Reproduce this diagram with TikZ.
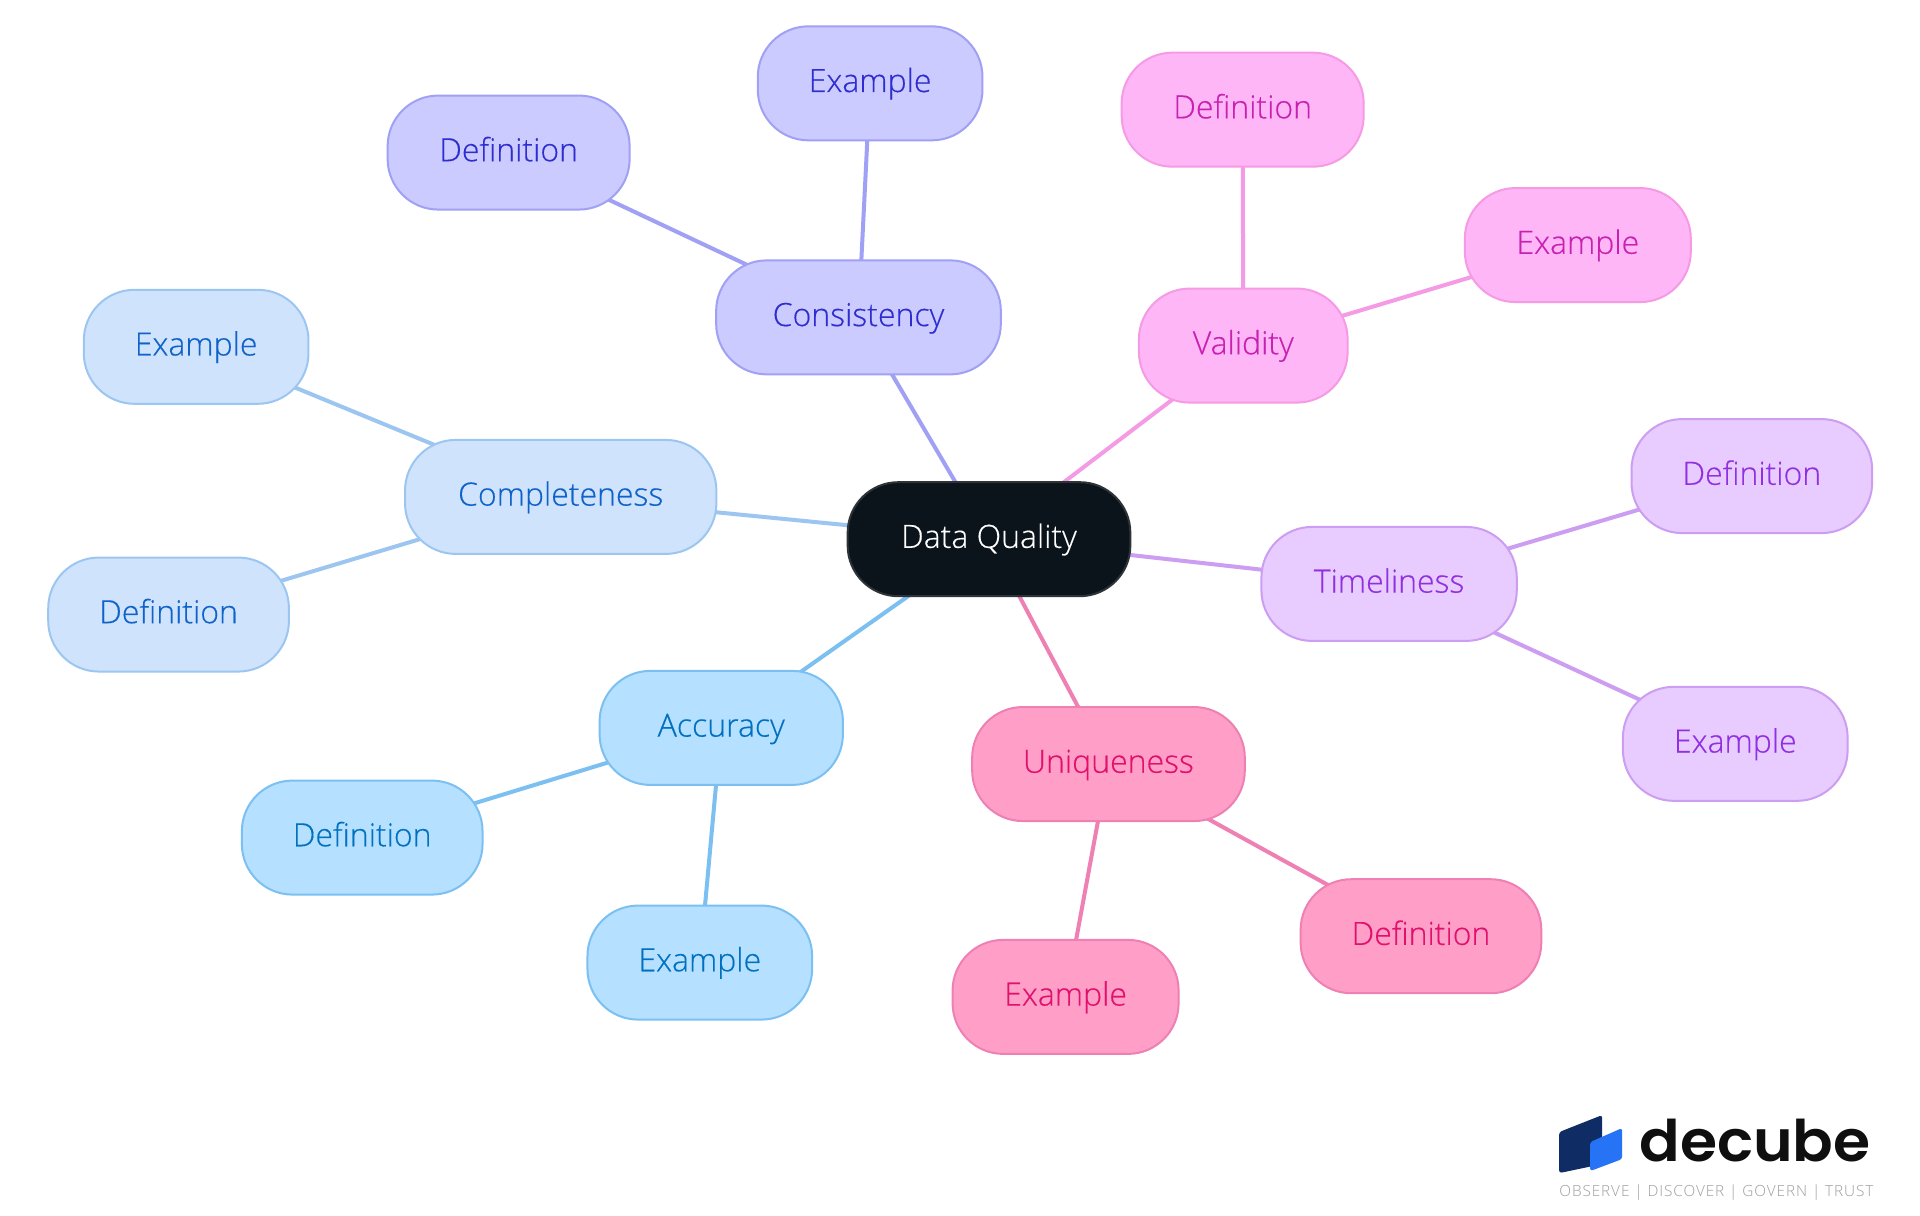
\documentclass[tikz,border=0pt]{standalone}
\usepackage{fontspec}
\setmainfont[FakeBold=0.35]{Open Sans Light}
\newfontfamily\logofont[FakeStretch=1.047]{Poppins SemiBold}
\newfontfamily\tagfont[LetterSpace=6]{Open Sans Light}
\usetikzlibrary{backgrounds}
\definecolor{cBlackF}{HTML}{0B131B}\definecolor{cBlackS}{HTML}{2E3338}
\definecolor{cConF}{HTML}{CBCBFF}\definecolor{cConS}{HTML}{A0A0F5}\definecolor{cConT}{HTML}{2E2ED0}
\definecolor{cValF}{HTML}{FFB6F6}\definecolor{cValS}{HTML}{F59AE5}\definecolor{cValT}{HTML}{C820B0}
\definecolor{cTimF}{HTML}{E8CCFF}\definecolor{cTimS}{HTML}{CC9DF0}\definecolor{cTimT}{HTML}{9030E0}
\definecolor{cUniF}{HTML}{FF9FC8}\definecolor{cUniS}{HTML}{EE80B4}\definecolor{cUniT}{HTML}{E0106C}
\definecolor{cAccF}{HTML}{B5E0FF}\definecolor{cAccS}{HTML}{7CC0F2}\definecolor{cAccT}{HTML}{0070C0}
\definecolor{cComF}{HTML}{CFE3FD}\definecolor{cComS}{HTML}{9CC6F0}\definecolor{cComT}{HTML}{0F62C8}
\definecolor{cLogoD}{HTML}{0F2D64}\definecolor{cLogoB}{HTML}{2673F5}
\definecolor{cLogoT}{HTML}{0F0F0F}\definecolor{cLogoG}{HTML}{9E9E9E}
\tikzset{
  pill/.style={rectangle,rounded corners=38pt,line width=1.5pt,inner sep=0pt,xshift=-0.4pt,
    minimum height=85.5pt,font=\fontsize{24}{27}\selectfont,text height=20pt,text depth=7pt},
  mm/.style args={#1/#2/#3}{pill,draw=#2,fill=#1,text=#3},
  tcon/.style={mm=cConF/cConS/cConT},
  tval/.style={mm=cValF/cValS/cValT},
  ttim/.style={mm=cTimF/cTimS/cTimT},
  tuni/.style={mm=cUniF/cUniS/cUniT},
  tacc/.style={mm=cAccF/cAccS/cAccT},
  tcom/.style={mm=cComF/cComS/cComT},
  troot/.style={mm=cBlackF/cBlackS/white},
  link/.style={line width=3pt},
}
\begin{document}
\begin{tikzpicture}[x=0.919pt,y=-0.919pt]
\useasboundingbox (0,0) rectangle (1566.8,991.5);
\node[troot,minimum width=212pt] (root) at (807.5,440) {Data Quality};
\node[tcon,minimum width=213.5pt] (con) at (701,259) {Consistency};
\node[tcon,minimum width=181.5pt] (conD) at (415.5,124.5) {Definition};
\node[tcon,minimum width=168.5pt] (conE) at (710.5,68) {Example};
\node[tval,minimum width=156.5pt] (val) at (1015,282) {Validity};
\node[tval,minimum width=181.5pt] (valD) at (1014.5,89.5) {Definition};
\node[tval,minimum width=169.5pt] (valE) at (1288,200) {Example};
\node[ttim,minimum width=191.5pt] (tim) at (1134,476.5) {Timeliness};
\node[ttim,minimum width=180.5pt] (timD) at (1430,388.5) {Definition};
\node[ttim,minimum width=168.5pt] (timE) at (1416.5,607) {Example};
\node[tuni,minimum width=204.5pt] (uni) at (905,623.5) {Uniqueness};
\node[tuni,minimum width=180.5pt] (uniD) at (1160,764) {Definition};
\node[tuni,minimum width=169.5pt] (uniE) at (870,813.5) {Example};
\node[tacc,minimum width=182.5pt] (acc) at (589,594) {Accuracy};
\node[tacc,minimum width=180.5pt] (accD) at (296,683.5) {Definition};
\node[tacc,minimum width=168.5pt] (accE) at (571.5,785.5) {Example};
\node[tcom,minimum width=233.5pt] (com) at (458,405.5) {Completeness};
\node[tcom,minimum width=168.5pt] (comE) at (160.5,283) {Example};
\node[tcom,minimum width=180.5pt] (comD) at (138,501.5) {Definition};
\begin{scope}[on background layer]
\fill[white] (0,0) rectangle (1566.8,991.5);
\draw[link,cConS] (root.center) -- (con.center);
\draw[link,cConS] (con.center) -- (conD.center);
\draw[link,cConS] (con.center) -- (conE.center);
\draw[link,cValS] (root.center) -- (val.center);
\draw[link,cValS] (val.center) -- (valD.center);
\draw[link,cValS] (val.center) -- (valE.center);
\draw[link,cTimS] (root.center) -- (tim.center);
\draw[link,cTimS] (tim.center) -- (timD.center);
\draw[link,cTimS] (tim.center) -- (timE.center);
\draw[link,cUniS] (root.center) -- (uni.center);
\draw[link,cUniS] (uni.center) -- (uniD.center);
\draw[link,cUniS] (uni.center) -- (uniE.center);
\draw[link,cAccS] (root.center) -- (acc.center);
\draw[link,cAccS] (acc.center) -- (accD.center);
\draw[link,cAccS] (acc.center) -- (accE.center);
\draw[link,cComS] (root.center) -- (com.center);
\draw[link,cComS] (com.center) -- (comD.center);
\draw[link,cComS] (com.center) -- (comE.center);
\end{scope}
\begin{scope}[x=0.75pt,y=-0.75pt]
\fill[rounded corners=2pt,cLogoD] (1559,1132) -- (1602,1115) -- (1602,1164) -- (1559,1173) -- cycle;
\fill[rounded corners=2pt,cLogoB] (1590,1142) -- (1622,1128) -- (1622,1159) -- (1590,1171) -- cycle;
\node[anchor=base west,inner sep=0pt,text=cLogoT,font=\logofont\fontsize{43}{47}\selectfont] (logo) at (1639,1161) {decube};
\node[anchor=base west,inner sep=0pt,text=cLogoG,font=\tagfont\fontsize{11.5}{13}\selectfont] (tag) at (1559,1196) {OBSERVE | DISCOVER | GOVERN | TRUST};
\end{scope}
\end{tikzpicture}
\end{document}
